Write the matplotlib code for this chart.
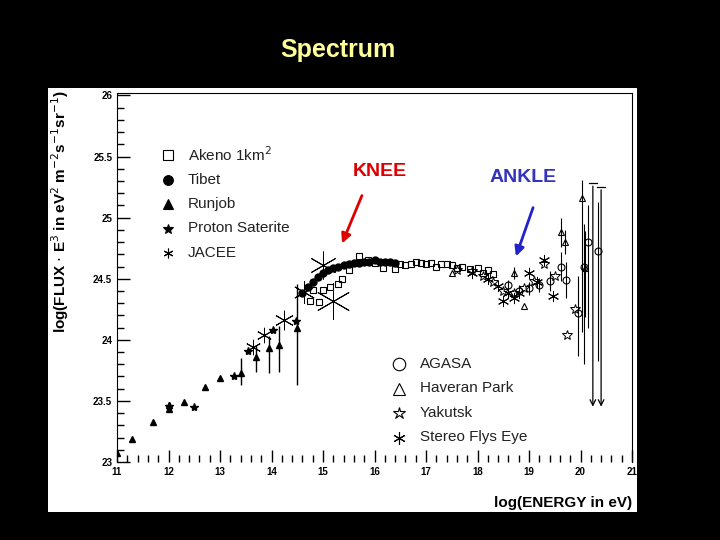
import matplotlib.pyplot as plt
import matplotlib.patches as mpatches
import numpy as np

plt.rcParams['font.family'] = ['Liberation Sans', 'DejaVu Sans']

# Runjob (triangles) with error bars
runjob_x = [11.0, 11.29, 11.70, 12.01, 12.01, 12.30, 12.71, 13.0, 13.41, 13.70, 13.96, 14.15, 14.5]
runjob_y = [23.07, 23.19, 23.33, 23.43, 23.47, 23.49, 23.61, 23.69, 23.73, 23.86, 23.93, 23.96, 24.10]
runjob_lo = [0, 0, 0, 0, 0, 0, 0, 0, 0.10, 0.12, 0.20, 0.22, 0.47]
runjob_hi = [0, 0, 0, 0, 0, 0, 0, 0, 0.12, 0.10, 0.10, 0.15, 0.36]

# Proton Satellite (small filled stars)
proton_x = [12.0, 12.5, 13.27, 13.55, 14.02, 14.48]
proton_y = [23.46, 23.45, 23.70, 23.91, 24.08, 24.15]

# JACEE (asterisks)
jacee_x = [13.65, 13.86, 14.25, 14.64, 15.0, 15.2]
jacee_y = [23.94, 24.04, 24.16, 24.39, 24.61, 24.32]
jacee_s = [11, 11, 14, 16, 20, 26]

# Tibet (filled circles)
tibet_x = [14.6, 14.7, 14.8, 14.9, 15.0, 15.1, 15.2, 15.3, 15.4, 15.5, 15.6, 15.7, 15.8, 15.9,
           16.0, 16.1, 16.2, 16.3, 16.4]
tibet_y = [24.38, 24.43, 24.47, 24.51, 24.55, 24.57, 24.59, 24.60, 24.61, 24.62, 24.63, 24.63,
           24.64, 24.64, 24.65, 24.64, 24.64, 24.64, 24.63]

# Akeno (open squares)
akeno_x = [14.75, 14.8, 14.93, 15.0, 15.14, 15.3, 15.37, 15.5, 15.69, 15.88, 16.0, 16.17, 16.4,
           16.5, 16.6, 16.7, 16.8, 16.9, 17.0, 17.1, 17.2, 17.3, 17.4, 17.5, 17.6, 17.7, 17.85,
           18.0, 18.1, 18.2, 18.3]
akeno_y = [24.32, 24.41, 24.31, 24.41, 24.43, 24.46, 24.50, 24.57, 24.69, 24.65, 24.63, 24.59, 24.58,
           24.62, 24.61, 24.62, 24.64, 24.63, 24.62, 24.63, 24.60, 24.62, 24.62, 24.61, 24.59,
           24.60, 24.58, 24.59, 24.55, 24.57, 24.54]

# Haverah Park (open triangles)
haverah_x = [17.5, 18.7, 18.9, 19.62, 19.7, 20.03, 20.08]
haverah_y = [24.55, 24.55, 24.28, 24.88, 24.80, 25.16, 24.59]
haverah_lo = [0, 0.05, 0, 0.12, 0.1, 1.1, 0.4]
haverah_hi = [0, 0.05, 0, 0.12, 0.1, 0.15, 0.3]

# AGASA (open circles)
agasa_x = [18.6, 18.8, 19.0, 19.2, 19.4, 19.62, 19.72, 19.95, 20.07, 20.15, 20.34]
agasa_y = [24.45, 24.40, 24.42, 24.45, 24.48, 24.60, 24.49, 24.22, 24.60, 24.80, 24.73]
agasa_lo = [0.04, 0.05, 0.05, 0.06, 0.08, 0.12, 0.15, 0.35, 0.8, 0.7, 0.9]
agasa_hi = [0.04, 0.05, 0.05, 0.06, 0.08, 0.12, 0.15, 0.3, 0.35, 0.3, 0.4]

# Yakutsk (stars) in the dense region
yakutsk_x = [17.6, 17.9, 18.1, 18.3, 18.5, 18.7, 18.9, 19.1, 19.3, 19.5, 19.73, 19.9]
yakutsk_y = [24.57, 24.56, 24.52, 24.47, 24.40, 24.38, 24.42, 24.48, 24.62, 24.52, 24.04, 24.25]

# Stereo Fly's Eye (asterisks)
flyseye_x = [17.9, 18.2, 18.4, 18.5, 18.6, 18.7, 18.8, 19.0, 19.15, 19.29, 19.46]
flyseye_y = [24.55, 24.50, 24.44, 24.32, 24.38, 24.34, 24.38, 24.55, 24.47, 24.65, 24.36]

# upper limits
limit_x = [20.24, 20.4]
limit_top = [25.28, 25.25]
limit_bot = [23.43, 23.43]

fig = plt.figure(figsize=(7.2, 5.4), dpi=100)
fig.patch.set_facecolor('black')
fig.patches.append(mpatches.Rectangle((48/720, 28/540), 589/720, 424/540,
                                      transform=fig.transFigure, facecolor='white', zorder=-5))

ax = fig.add_axes([117/720, 78/540, 515/720, 369/540])
ax.set_facecolor('none')
ax.set_xlim(11, 21)
ax.set_ylim(23, 26.02)

ax.errorbar(runjob_x, runjob_y, yerr=[runjob_lo, runjob_hi], fmt='^', color='black', ms=5,
            elinewidth=1, capsize=0)
ax.plot(proton_x, proton_y, '*', color='black', ms=6)
for x, y, s in zip(jacee_x, jacee_y, jacee_s):
    ax.plot(x, y, marker=(6, 2, 0), color='black', ms=s, mew=0.7)
ax.plot(tibet_x, tibet_y, 'o', color='black', ms=5)
ax.plot(akeno_x, akeno_y, 's', mfc='none', mec='black', ms=5, mew=0.8)
ax.errorbar(haverah_x, haverah_y, yerr=[haverah_lo, haverah_hi], fmt='^', mfc='none', mec='black',
            color='black', ms=5, mew=0.8, elinewidth=0.8, capsize=0)
ax.errorbar(agasa_x, agasa_y, yerr=[agasa_lo, agasa_hi], fmt='o', mfc='none', mec='black',
            color='black', ms=5, mew=0.8, elinewidth=0.8, capsize=0)
ax.plot(yakutsk_x, yakutsk_y, '*', mfc='none', mec='black', ms=7, mew=0.7)
ax.plot(flyseye_x, flyseye_y, marker=(6, 2, 0), ls='none', color='black', ms=8, mew=0.7)
for x, t, b in zip(limit_x, limit_top, limit_bot):
    ax.annotate('', xy=(x, b), xytext=(x, t),
                arrowprops=dict(arrowstyle='->', color='black', lw=0.9))
    ax.plot([x - 0.08, x + 0.08], [t, t], color='black', lw=0.9)

ax.set_xticks(np.arange(11, 22, 1))
ax.set_xticks(np.arange(11, 21.01, 0.2), minor=True)
ax.set_yticks([23, 23.5, 24, 24.5, 25, 25.5, 26])
ax.set_yticklabels(['23', '23.5', '24', '24.5', '25', '25.5', '26'])
ax.set_yticks(np.arange(23, 26.01, 0.1), minor=True)
ax.tick_params(direction='in', length=9, width=1, labelsize=7)
ax.tick_params(which='minor', direction='in', length=5, width=1)
for lab in ax.get_xticklabels() + ax.get_yticklabels():
    lab.set_fontweight('bold')
ax.spines['bottom'].set_visible(False)

# legends
leg1 = [('s', 'Akeno 1km$^2$', 'none'), ('o', 'Tibet', 'black'), ('^', 'Runjob', 'black'),
        ('*', 'Proton Saterite', 'black'), ((6, 2, 0), 'JACEE', 'black')]
for i, (m, t, fc) in enumerate(leg1):
    ypix = 155 + i * 24.5
    fig.lines.append(plt.Line2D([168/720], [1 - ypix/540], marker=m, mfc=fc, mec='black',
                                color='black', ms=7, mew=0.8, transform=fig.transFigure))
    fig.text(188/720, 1 - ypix/540, t, fontsize=11, va='center', color='#222222')
leg2 = [('o', 'AGASA'), ('^', 'Haveran Park'), ('*', 'Yakutsk'), ((6, 2, 0), 'Stereo Flys Eye')]
for i, (m, t) in enumerate(leg2):
    ypix = 364 + i * 24.5
    fig.lines.append(plt.Line2D([399/720], [1 - ypix/540], marker=m, mfc='none', mec='black',
                                color='black', ms=9, mew=0.8, transform=fig.transFigure))
    fig.text(420/720, 1 - ypix/540, t, fontsize=11, va='center', color='#222222')

fig.text(338/720, 1 - 50/540, 'Spectrum', color='#ffff99', fontsize=18, fontweight='bold',
         ha='center', va='center')
fig.text(380/720, 1 - 171/540, 'KNEE', color='#dd0000', fontsize=14, fontweight='bold',
         ha='center', va='center')
fig.text(523/720, 1 - 178/540, 'ANKLE', color='#3333bb', fontsize=14, fontweight='bold',
         ha='center', va='center')
fig.patches.append(mpatches.FancyArrowPatch((363/720, 1 - 193/540), (341/720, 1 - 246/540),
                   transform=fig.transFigure, arrowstyle='-|>', mutation_scale=14,
                   color='#dd0000', lw=2))
fig.patches.append(mpatches.FancyArrowPatch((534/720, 1 - 205/540), (515/720, 1 - 259/540),
                   transform=fig.transFigure, arrowstyle='-|>', mutation_scale=14,
                   color='#2222cc', lw=2))
fig.text(60/720, 1 - 212/540,
         r'log(FLUX $\cdot$ E$^3$ in eV$^2$ m$^{-2}$s$^{-1}$sr$^{-1}$)',
         rotation=90, fontsize=11, fontweight='bold', ha='center', va='center')
fig.text(632/720, 1 - 503/540, 'log(ENERGY in eV)', fontsize=11, fontweight='bold',
         ha='right', va='center')

fig.savefig('out.png', dpi=100, facecolor='black')
